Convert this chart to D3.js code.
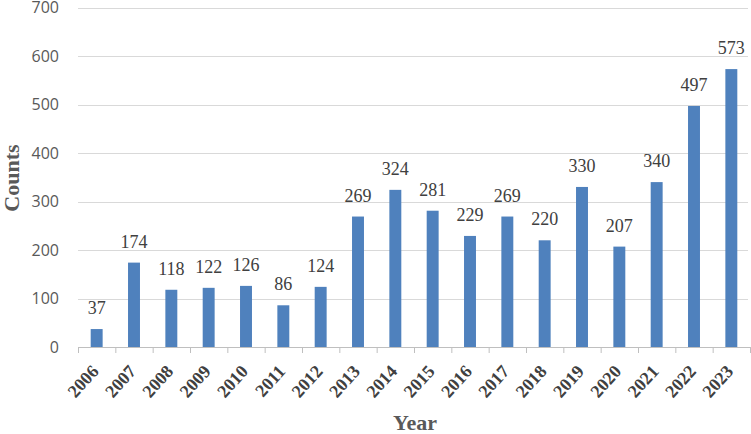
<!DOCTYPE html>
<html><head><meta charset="utf-8">
<script src="https://cdn.jsdelivr.net/npm/d3@7"></script>
<style>body{margin:0;background:#fff}svg{display:block}</style>
</head><body><svg id="c" width="751" height="434"></svg>
<script>
const years = ["2006","2007","2008","2009","2010","2011","2012","2013","2014","2015","2016","2017","2018","2019","2020","2021","2022","2023"];
const counts = [37,174,118,122,126,86,124,269,324,281,229,269,220,330,207,340,497,573];
const yTicks = [0,100,200,300,400,500,600,700];

const SERIF = "'Liberation Serif', 'Times New Roman', serif";
const SANS = "'Open Sans', 'Liberation Sans', sans-serif";
const svg = d3.select("#c");
const L = 78, R = 750, T = 7.5, B = 347;
const x = d3.scaleBand().domain(years).range([L, R]).paddingInner(0.68).paddingOuter(0.34);
const y = d3.scaleLinear().domain([0, 700]).range([B, T]);

// gridlines
svg.append("g").selectAll("line").data(yTicks.filter(d => d > 0)).join("line")
  .attr("x1", L).attr("x2", 748).attr("y1", d => Math.round(y(d)) + 0.5).attr("y2", d => Math.round(y(d)) + 0.5)
  .attr("stroke", "#d9d9d9").attr("stroke-width", 1);

// y labels
svg.append("g").selectAll("text").data(yTicks).join("text")
  .attr("x", 59).attr("y", d => y(d)).attr("dy", "0.36em")
  .attr("text-anchor", "end")
  .attr("font-family", SANS).attr("font-size", 16)
  .attr("fill", "#595959").text(d => d);

// bars
svg.append("g").selectAll("rect").data(counts).join("rect")
  .attr("x", (d, i) => x(years[i])).attr("width", x.bandwidth())
  .attr("y", d => y(d)).attr("height", d => y(0) - y(d))
  .attr("fill", "#4f81bd");

// x axis line and ticks
svg.append("line").attr("x1", L).attr("x2", R).attr("y1", B + 0.5).attr("y2", B + 0.5).attr("stroke", "#bfbfbf");
const step = x.step();
svg.append("g").selectAll("line").data(d3.range(years.length + 1)).join("line")
  .attr("x1", i => L + i * step + 0.5).attr("x2", i => L + i * step + 0.5)
  .attr("y1", B).attr("y2", B + 6).attr("stroke", "#bfbfbf");

// x tick labels
svg.append("g").selectAll("text").data(years).join("text")
  .attr("transform", d => `translate(${x(d) + x.bandwidth() / 2 + 3},${B + 25}) rotate(-48)`)
  .attr("text-anchor", "end")
  .attr("font-family", SERIF).attr("font-weight", "bold")
  .attr("font-size", 18).attr("fill", "#404040").text(d => d);

// data labels
svg.append("g").selectAll("text").data(counts).join("text")
  .attr("x", (d, i) => x(years[i]) + x.bandwidth() / 2)
  .attr("y", d => y(d) - 15)
  .attr("text-anchor", "middle")
  .attr("font-family", SERIF)
  .attr("font-size", 18).attr("fill", "#404040").text(d => d);

// axis titles
svg.append("text").attr("transform", "translate(19,178) rotate(-90)")
  .attr("text-anchor", "middle")
  .attr("font-family", SERIF).attr("font-weight", "bold")
  .attr("font-size", 22).attr("fill", "#595959").text("Counts");
svg.append("text").attr("x", 415).attr("y", 430)
  .attr("text-anchor", "middle")
  .attr("font-family", SERIF).attr("font-weight", "bold")
  .attr("font-size", 22).attr("fill", "#595959").text("Year");
</script></body></html>
